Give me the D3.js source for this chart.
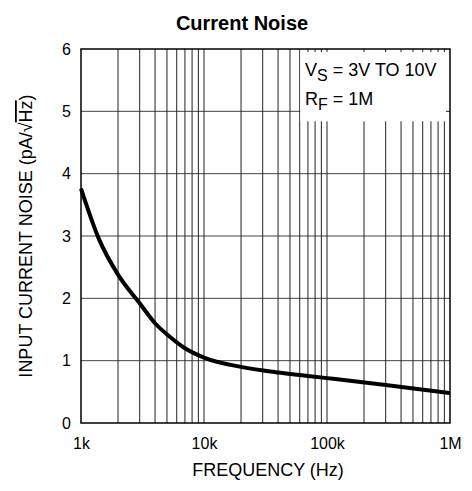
<!DOCTYPE html>
<html><head><meta charset="utf-8">
<script src="https://cdn.jsdelivr.net/npm/d3@7"></script>
<style>body{margin:0;background:#fff}svg{display:block}text{font-family:"Liberation Sans",Arial,sans-serif;fill:#000}</style>
</head><body><svg id="c" width="472" height="491"></svg>
<script>
const freqs = [1e3, 1.4e3, 2e3, 3e3, 4e3, 5.3e3, 7e3, 1e4, 2e4, 4e4, 6e4, 1e5, 3e5, 1e6];
const noise = [3.76, 2.95, 2.38, 1.92, 1.6, 1.38, 1.2, 1.05, 0.90, 0.81, 0.77, 0.72, 0.61, 0.48];
const xTickVals = [1e3, 1e4, 1e5, 1e6];
const xTickLabels = ["1k", "10k", "100k", "1M"];
const yTickVals = [0, 1, 2, 3, 4, 5, 6];
const legendLines = [["V", "S", " = 3V TO 10V"], ["R", "F", " = 1M"]];

const svg = d3.select("#c");
const L = 81, R = 450, T = 49, B = 423;
const x = d3.scaleLog().domain([1e3, 1e6]).range([L, R]);
const y = d3.scaleLinear().domain([0, 6]).range([B, T]);

const gridX = [];
for (let d = 1e3; d < 1e6; d *= 10) for (let m = 1; m <= 9; m++) if (!(m === 1 && d === 1e3)) gridX.push(d * m);

const g = svg.append("g");
g.selectAll(".hg").data(yTickVals.slice(1, 6)).join("line")
  .attr("x1", L).attr("x2", R).attr("y1", d => y(d)).attr("y2", d => y(d))
  .attr("stroke", "#444").attr("stroke-width", 1);
g.selectAll(".vg").data(gridX).join("line")
  .attr("x1", d => x(d)).attr("x2", d => x(d)).attr("y1", T).attr("y2", B)
  .attr("stroke", "#222").attr("stroke-width", 1);

// legend box (white) covering grid in the upper right
const boxL = x(6e4) + 0.5, boxB = y(4.84);
g.append("rect").attr("x", boxL).attr("y", T).attr("width", R - boxL).attr("height", boxB - T).attr("fill", "#fff");
g.selectAll(".tt").data(gridX.filter(d => x(d) > boxL + 1)).join("line")
  .attr("x1", d => x(d)).attr("x2", d => x(d)).attr("y1", T).attr("y2", T + 3)
  .attr("stroke", "#222");
g.append("line").attr("x1", R - 4).attr("x2", R).attr("y1", y(5)).attr("y2", y(5)).attr("stroke", "#222");

legendLines.forEach((ln, i) => {
  const t = g.append("text").attr("x", 305).attr("y", 76 + i * 29).attr("font-size", 18);
  t.append("tspan").text(ln[0]);
  t.append("tspan").attr("dy", 5).attr("font-size", 16).text(ln[1]);
  t.append("tspan").attr("dy", -5).text(ln[2]);
});

g.append("rect").attr("x", L).attr("y", T).attr("width", R - L).attr("height", B - T)
  .attr("fill", "none").attr("stroke", "#000").attr("stroke-width", 1.5);

const line = d3.line().x((d, i) => x(freqs[i])).y(d => y(d)).curve(d3.curveMonotoneX);
g.append("path").datum(noise).attr("d", line).attr("fill", "none").attr("stroke", "#000").attr("stroke-width", 4);

const xAxis = d3.axisBottom(x).tickValues(xTickVals).tickFormat((d, i) => xTickLabels[i]).tickSize(0).tickPadding(15);
const xa = svg.append("g").attr("transform", `translate(0,${B})`).call(xAxis);
xa.select(".domain").remove();
xa.selectAll("text").attr("font-size", 16).attr("font-family", "Liberation Sans, Arial, sans-serif").attr("fill", "#000");

const yAxis = d3.axisLeft(y).tickValues(yTickVals).tickFormat(d3.format("d")).tickSize(0).tickPadding(10);
const ya = svg.append("g").attr("transform", `translate(${L},0)`).call(yAxis);
ya.select(".domain").remove();
ya.selectAll("text").attr("font-size", 16).attr("font-family", "Liberation Sans, Arial, sans-serif").attr("fill", "#000");

svg.append("text").attr("x", 242).attr("y", 30).attr("text-anchor", "middle")
  .attr("font-size", 20).attr("font-weight", "bold").text("Current Noise");
svg.append("text").attr("x", 268).attr("y", 476).attr("text-anchor", "middle")
  .attr("font-size", 18).text("FREQUENCY (Hz)");
const yl = svg.append("text").attr("transform", `translate(32,${(T + B) / 2}) rotate(-90)`)
  .attr("text-anchor", "middle").attr("font-size", 18);
yl.append("tspan").text("INPUT CURRENT NOISE (pA/√");
yl.append("tspan").attr("text-decoration", "overline").text("Hz");
yl.append("tspan").text(")");
</script></body></html>
